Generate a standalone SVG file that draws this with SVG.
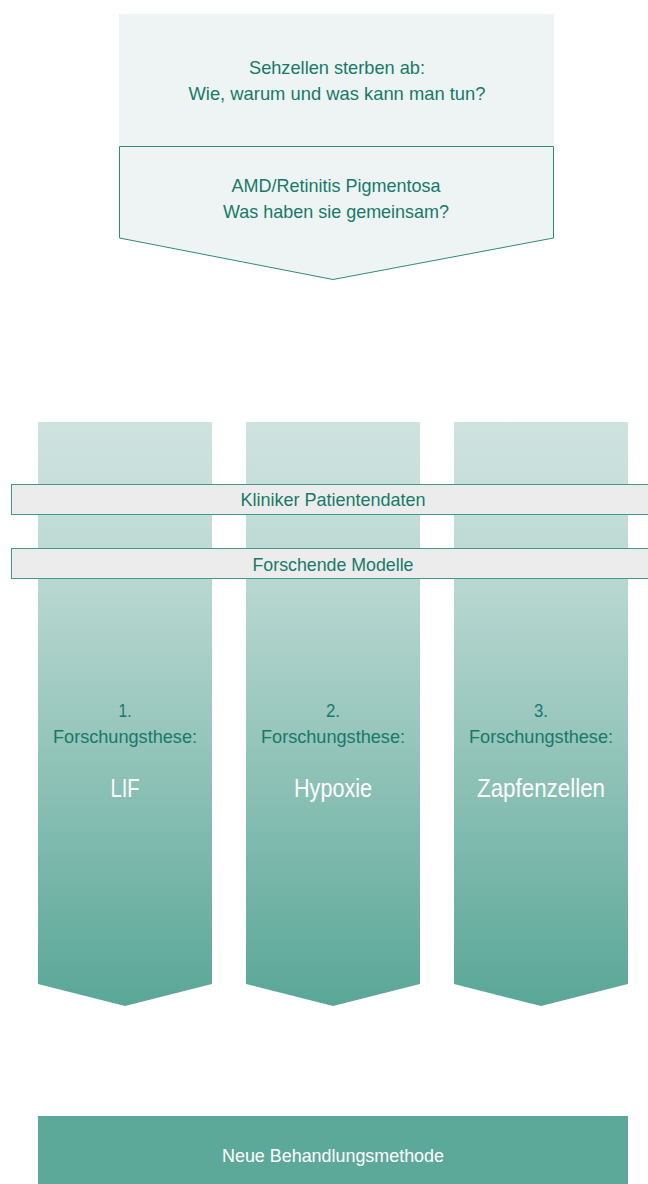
<svg xmlns="http://www.w3.org/2000/svg" width="648" height="1184" viewBox="0 0 648 1184">
<style>
.t{font-family:"Liberation Sans",Arial,sans-serif;fill:#17796a;text-anchor:middle;font-size:18.5px}
.w{fill:#ffffff}
.big{font-size:25px}
.bar{fill:#ececec;stroke:#3d9988;stroke-width:1}
.col{fill:url(#g)}
</style>
<defs>
<linearGradient id="g" x1="0" y1="422" x2="0" y2="1006" gradientUnits="userSpaceOnUse">
<stop offset="0" stop-color="#cfe3df"/>
<stop offset="0.25" stop-color="#bcd9d3"/>
<stop offset="1" stop-color="#5aa797"/>
</linearGradient>
</defs>
<g id="node-top">
<rect x="119" y="14" width="435" height="132" fill="#eef4f3"/>
<text class="t" x="337" y="74" textLength="176" lengthAdjust="spacingAndGlyphs">Sehzellen sterben ab:</text>
<text class="t" x="337" y="100" textLength="297" lengthAdjust="spacingAndGlyphs">Wie, warum und was kann man tun?</text>
</g>
<g id="node-amd">
<path d="M119.5 146.5 H553.5 V238 L333 279.5 L119.5 238 Z" fill="#eef4f3" stroke="#2e8b7a" stroke-width="1"/>
<text class="t" x="336" y="192" textLength="209" lengthAdjust="spacingAndGlyphs">AMD/Retinitis Pigmentosa</text>
<text class="t" x="336" y="218" textLength="226" lengthAdjust="spacingAndGlyphs">Was haben sie gemeinsam?</text>
</g>
<g id="node-col1">
<path class="col" d="M38 422 H212 V984 L125 1006 L38 984 Z"/>
<text class="t" x="125" y="717" textLength="13" lengthAdjust="spacingAndGlyphs">1.</text>
<text class="t" x="125" y="743" textLength="144" lengthAdjust="spacingAndGlyphs">Forschungsthese:</text>
<text class="t w big" x="125" y="797" textLength="29" lengthAdjust="spacingAndGlyphs">LIF</text>
</g>
<g id="node-col2">
<path class="col" d="M246 422 H420 V984 L333 1006 L246 984 Z"/>
<text class="t" x="333" y="717" textLength="14" lengthAdjust="spacingAndGlyphs">2.</text>
<text class="t" x="333" y="743" textLength="144" lengthAdjust="spacingAndGlyphs">Forschungsthese:</text>
<text class="t w big" x="333" y="797" textLength="78" lengthAdjust="spacingAndGlyphs">Hypoxie</text>
</g>
<g id="node-col3">
<path class="col" d="M454 422 H628 V984 L541 1006 L454 984 Z"/>
<text class="t" x="541" y="717" textLength="14" lengthAdjust="spacingAndGlyphs">3.</text>
<text class="t" x="541" y="743" textLength="144" lengthAdjust="spacingAndGlyphs">Forschungsthese:</text>
<text class="t w big" x="541" y="797" textLength="128" lengthAdjust="spacingAndGlyphs">Zapfenzellen</text>
</g>
<g id="node-kliniker">
<rect class="bar" x="11.5" y="484.5" width="650" height="30"/>
<text class="t" x="333" y="506" textLength="185" lengthAdjust="spacingAndGlyphs">Kliniker Patientendaten</text>
</g>
<g id="node-modelle">
<rect class="bar" x="11.5" y="548.5" width="650" height="30"/>
<text class="t" x="333" y="571" textLength="161" lengthAdjust="spacingAndGlyphs">Forschende Modelle</text>
</g>
<g id="node-neue">
<rect x="38" y="1116" width="590" height="68" fill="#5ca99a"/>
<text class="t w" x="333" y="1162" textLength="222" lengthAdjust="spacingAndGlyphs">Neue Behandlungsmethode</text>
</g>
<g id="connectors"></g>
</svg>
